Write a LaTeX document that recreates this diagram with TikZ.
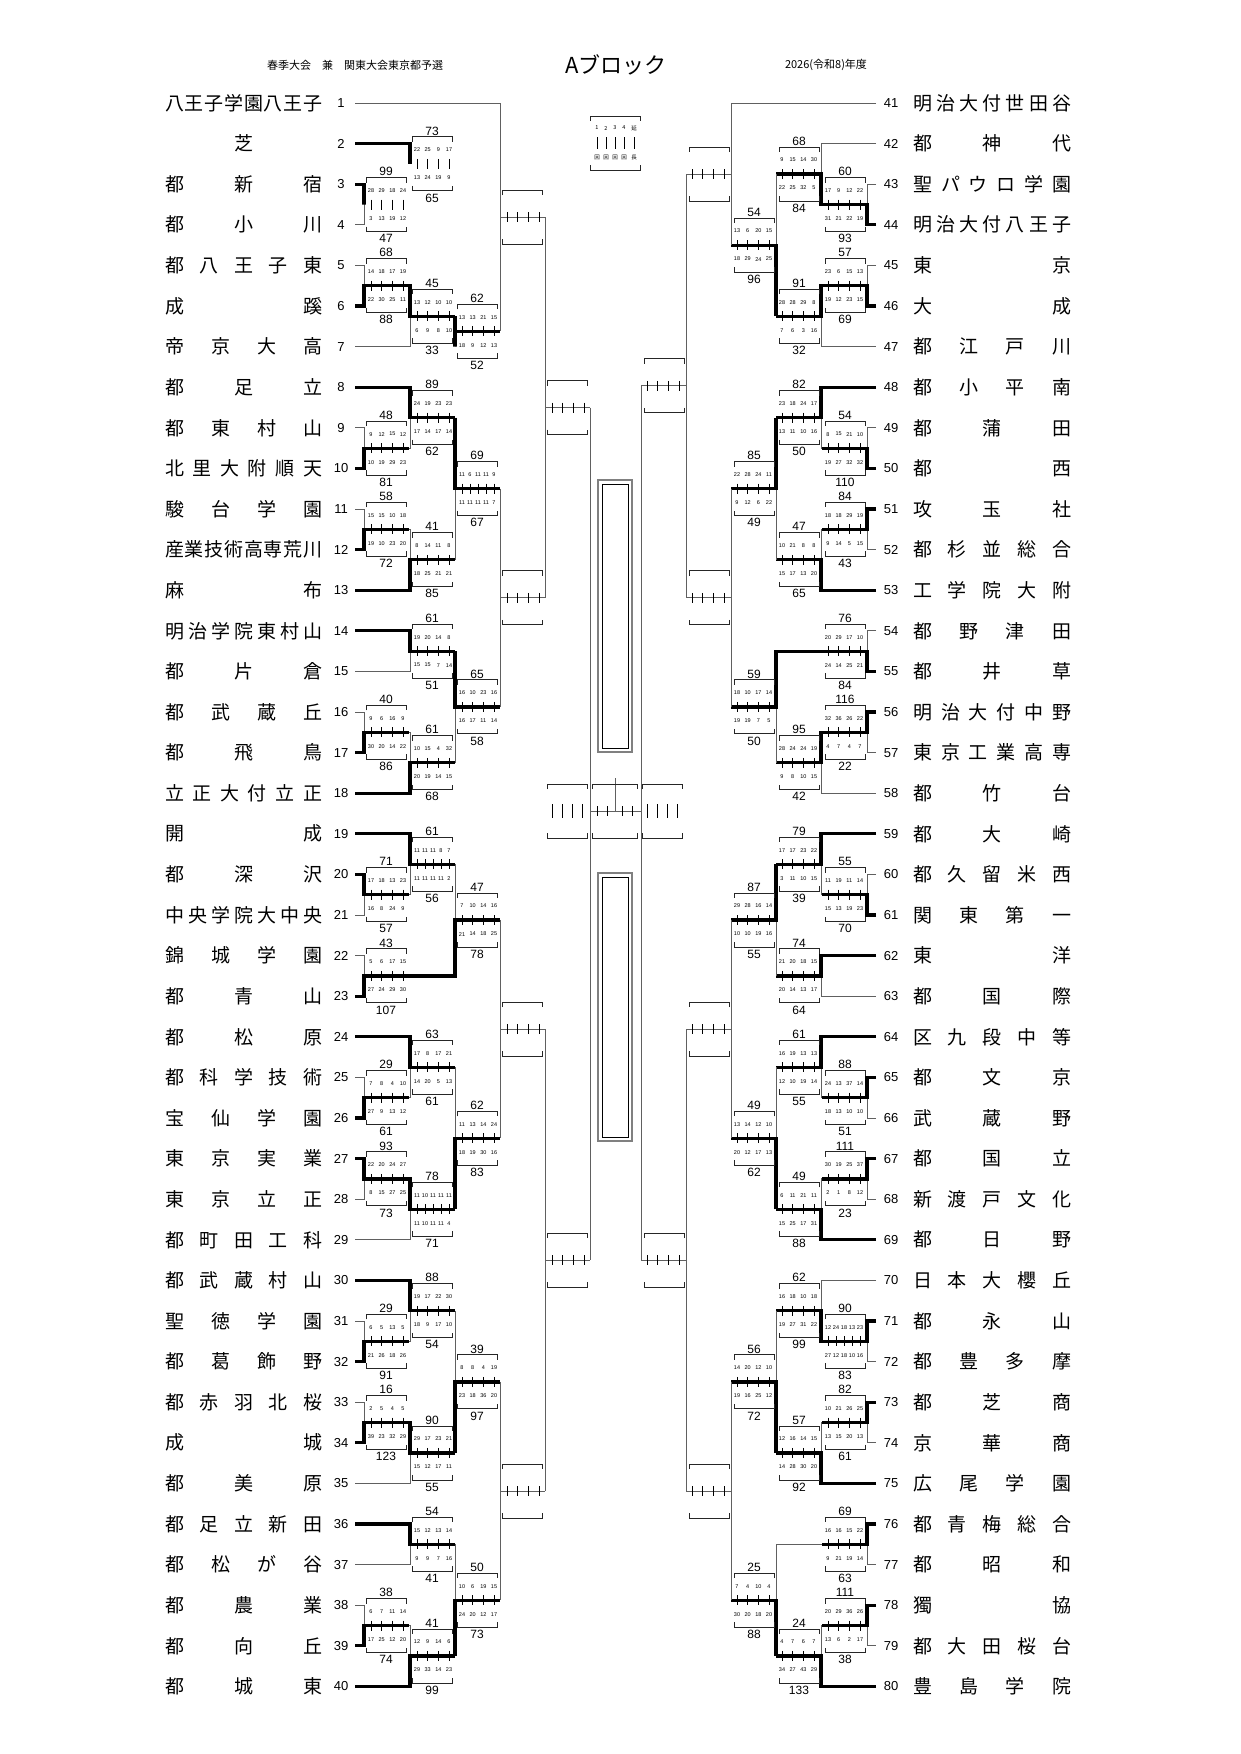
\documentclass[tikz,border=0pt]{standalone}
\usepackage{fontspec}
\setmainfont{Liberation Sans}
\newfontfamily\cjk{Noto Sans CJK JP}
\usetikzlibrary{calc}
\tikzset{
 br/.style={gray!75!black,line width=1},
 win/.style={black,line width=3.2},
 bx/.style={black!85,line width=0.9},
 tk/.style={black,line width=0.9},
 inn/.style={font=\fontsize{5.5}{6}\selectfont,inner sep=0},
 sc/.style={font=\fontsize{12}{13}\selectfont,inner sep=0},
 nm/.style={anchor=west,inner sep=0,font=\fontsize{19}{20}\cjk},
 num/.style={font=\fontsize{13}{14}\selectfont,inner sep=0}
}
\def\spread#1{\spreadi#1\relax}
\def\spreadi#1#2{#1\ifx\relax#2\else\hfill\expandafter\spreadi\expandafter#2\fi}
\def\D{1}\def\sh{0}
\newcommand\M[9]{%
 \coordinate (cx) at (#2,0);
 \coordinate (cy) at ({#2+45*\D},0);
 \coordinate (mm) at ($(#3)!0.5!(#4)$);
 \coordinate (#1) at (cy |- mm);
 \coordinate (a1) at (cx |- #3);
 \coordinate (a2) at (cx |- #4);
 \coordinate (am) at (cx |- mm);
 \draw[br] (#3) -- (a1) -- (a2) -- (#4) (am) -- (#1);
 \ifcase#5\or\draw[win] (#3) -- (a1) -- (am) -- (#1);\or\draw[win] (#4) -- (a2) -- (am) -- (#1);\fi
 \draw[bx] ($(am)+({2*\D},-22)$) -- ++(0,-5) -- ++({40*\D},0) -- ++(0,5);
 \draw[bx] ($(am)+({2*\D},22)$) -- ++(0,5) -- ++({40*\D},0) -- ++(0,-5);
 \gdef\nn{0}\foreach \t in {#8}{\xdef\nn{\the\numexpr\nn+1}}%
 \foreach \t [count=\k] in {#8}{\pgfmathsetmacro\o{7+(\k-1)*32/(\nn-1)+\sh}
   \draw[tk] ($(am)+(\o,-5)$) -- ++(0,10); \node[inn] at ($(am)+(\o,-14)$) {\t};}
 \foreach \t [count=\k] in {#9}{\pgfmathsetmacro\o{7+(\k-1)*32/(\nn-1)+\sh}
   \node[inn] at ($(am)+(\o,14)$) {\t};}
 \node[sc] at ($(am)+({22*\D},-33)$) {#6};
 \node[sc] at ($(am)+({22*\D},34)$) {#7};
}
\begin{document}
\begin{tikzpicture}[x=1pt,y=-1pt]
\useasboundingbox[fill=white] (0,0) rectangle (1241,1754);
% header
\node[font=\fontsize{11}{12}\cjk] at (355,65) {春季大会　兼　関東大会東京都予選};
\node[font=\fontsize{22}{24}\cjk] at (616,65) {Aブロック};
\node[font=\fontsize{11}{12}\cjk] at (826,65) {2026(令和8)年度};
% legend
\draw[bx] (590,121) -- ++(0,-5) -- ++(50,0) -- ++(0,5);
\draw[bx] (590,165) -- ++(0,5) -- ++(50,0) -- ++(0,-5);
\foreach \a/\b/\c [count=\k] in {1/回/597,2/回/606,3/回/615,4/回/624,延/長/634}{
 \node[font=\fontsize{5.5}{6}\cjk,inner sep=0] at (\c,128) {\a};
 \draw[tk] (\c,137) -- (\c,149);
 \node[font=\fontsize{5.5}{6}\cjk,inner sep=0] at (\c,158) {\b};}
% trophies
\foreach \ya/\yb in {480/752,873/1141}{
 \draw[gray,line width=2] (598,\ya) rectangle (632,\yb);
 \draw[black,line width=0.6] (602,\ya+4) rectangle (628,\yb-4);}
% rows
\foreach \i in {1,...,40}{\coordinate (L\i) at (355,{103+(\i-1)*40.6});
  \node[num] at (341,{103+(\i-1)*40.6}) {\i};}
\foreach \i in {41,...,80}{\coordinate (R\i) at (876,{103+(\i-41)*40.6});
  \node[num] at (891,{103+(\i-41)*40.6}) {\i};}
\foreach \n [count=\i] in {八王子学園八王子,芝,都新宿,都小川,都八王子東,成蹊,帝京大高,都足立,都東村山,北里大附順天,駿台学園,産業技術高専荒川,麻布,明治学院東村山,都片倉,都武蔵丘,都飛鳥,立正大付立正,開成,都深沢,中央学院大中央,錦城学園,都青山,都松原,都科学技術,宝仙学園,東京実業,東京立正,都町田工科,都武蔵村山,聖徳学園,都葛飾野,都赤羽北桜,成城,都美原,都足立新田,都松が谷,都農業,都向丘,都城東}
 {\node[nm] at (165,{103+(\i-1)*40.6}) {\makebox[157pt]{\expandafter\spread\expandafter{\n}}};}
\foreach \n [count=\i] in {明治大付世田谷,都神代,聖パウロ学園,明治大付八王子,東京,大成,都江戸川,都小平南,都蒲田,都西,攻玉社,都杉並総合,工学院大附,都野津田,都井草,明治大付中野,東京工業高専,都竹台,都大崎,都久留米西,関東第一,東洋,都国際,区九段中等,都文京,武蔵野,都国立,新渡戸文化,都日野,日本大櫻丘,都永山,都豊多摩,都芝商,京華商,広尾学園,都青梅総合,都昭和,獨協,都大田桜台,豊島学院}
 {\node[nm] at (913,{103+(\i-1)*40.6}) {\makebox[158pt]{\expandafter\spread\expandafter{\n}}};}
% ---------- left
\def\D{1}\def\sh{0}
\M{a1}{364}{L3}{L4}{1}{99}{47}{28,29,18,24}{3,13,19,12}
\M{a2}{410}{L2}{a1}{1}{73}{65}{22,25,9,17}{13,24,19,9}
\M{a3}{364}{L5}{L6}{2}{68}{88}{14,18,17,19}{22,30,25,11}
\M{a4}{410}{a3}{L7}{1}{45}{33}{13,12,10,10}{6,9,8,10}
\M{a5}{455}{a2}{a4}{1}{62}{52}{13,13,21,15}{18,9,12,13}
\M{a6}{500}{L1}{a5}{0}{}{}{{},{},{},{}}{{},{},{},{}}
\M{b1}{364}{L9}{L10}{2}{48}{81}{9,12,15,12}{10,19,29,23}
\M{b2}{410}{L8}{b1}{1}{89}{62}{24,19,23,23}{17,14,17,14}
\M{b3}{364}{L11}{L12}{2}{58}{72}{15,15,10,18}{19,10,23,20}
\M{b4}{410}{b3}{L13}{2}{41}{85}{8,14,11,8}{18,25,21,21}
\M{b5}{455}{b2}{b4}{1}{69}{67}{11,6,11,11,9}{11,11,11,11,7}
\M{c1}{410}{L14}{L15}{1}{61}{51}{19,20,14,8}{15,15,7,14}
\M{c2}{364}{L16}{L17}{2}{40}{86}{9,6,16,9}{30,20,14,22}
\M{c3}{410}{c2}{L18}{2}{61}{68}{10,15,4,32}{20,19,14,15}
\M{c4}{455}{c1}{c3}{1}{65}{58}{16,10,23,16}{16,17,11,14}
\M{bc}{500}{b5}{c4}{0}{}{}{{},{},{},{}}{{},{},{},{}}
\M{abc}{545}{a6}{bc}{0}{}{}{{},{},{},{}}{{},{},{},{}}
\M{d1}{364}{L20}{L21}{1}{71}{57}{17,18,13,23}{16,8,24,9}
\M{d2}{410}{L19}{d1}{1}{61}{56}{11,11,11,8,7}{11,11,11,11,2}
\M{d3}{364}{L22}{L23}{2}{43}{107}{5,6,17,15}{27,24,29,30}
\M{d4}{455}{d2}{d3}{2}{47}{78}{7,10,14,16}{21,14,18,25}
\M{e1}{364}{L25}{L26}{2}{29}{61}{7,8,4,10}{27,9,13,12}
\M{e2}{410}{L24}{e1}{1}{63}{61}{17,8,17,21}{14,20,5,13}
\M{e3}{364}{L27}{L28}{1}{93}{73}{22,20,24,27}{8,15,27,25}
\M{e4}{410}{e3}{L29}{1}{78}{71}{11,10,11,11,11}{11,10,11,11,4}
\M{e5}{455}{e2}{e4}{2}{62}{83}{11,13,14,24}{18,19,30,16}
\M{de}{500}{d4}{e5}{0}{}{}{{},{},{},{}}{{},{},{},{}}
\M{f1}{364}{L31}{L32}{2}{29}{91}{6,5,13,5}{21,26,18,26}
\M{f2}{410}{L30}{f1}{1}{88}{54}{19,17,22,30}{18,9,17,10}
\M{f3}{364}{L33}{L34}{2}{16}{123}{2,5,4,5}{39,23,32,29}
\M{f4}{410}{f3}{L35}{1}{90}{55}{29,17,23,21}{15,12,17,11}
\M{f5}{455}{f2}{f4}{2}{39}{97}{8,8,4,19}{23,18,36,20}
\M{g1}{410}{L36}{L37}{1}{54}{41}{15,12,13,14}{9,9,7,16}
\M{g2}{364}{L38}{L39}{2}{38}{74}{6,7,11,14}{17,25,12,20}
\M{g3}{410}{g2}{L40}{2}{41}{99}{12,9,14,6}{29,33,14,23}
\M{g4}{455}{g1}{g3}{2}{50}{73}{10,6,19,15}{24,20,12,17}
\M{fg}{500}{f5}{g4}{0}{}{}{{},{},{},{}}{{},{},{},{}}
\M{defg}{545}{de}{fg}{0}{}{}{{},{},{},{}}{{},{},{},{}}
% ---------- right
\def\D{(-1)}\def\sh{-46}
\M{ra1}{867}{R43}{R44}{2}{60}{93}{17,9,12,22}{31,21,22,19}
\M{ra2}{821}{R42}{ra1}{2}{68}{84}{9,15,14,30}{22,25,32,5}
\M{ra3}{867}{R45}{R46}{2}{57}{69}{23,6,15,13}{19,12,23,15}
\M{ra4}{821}{ra3}{R47}{1}{91}{32}{28,28,29,8}{7,6,3,16}
\M{ra5}{776}{ra2}{ra4}{2}{54}{96}{13,6,20,15}{18,29,24,25}
\M{ra6}{731}{R41}{ra5}{0}{}{}{{},{},{},{}}{{},{},{},{}}
\M{rb1}{867}{R49}{R50}{2}{54}{110}{8,15,21,10}{19,27,32,32}
\M{rb2}{821}{R48}{rb1}{1}{82}{50}{23,18,24,17}{13,11,10,16}
\M{rb3}{867}{R51}{R52}{1}{84}{43}{18,18,29,19}{9,14,5,15}
\M{rb4}{821}{rb3}{R53}{2}{47}{65}{10,21,8,8}{15,17,13,20}
\M{rb5}{776}{rb2}{rb4}{1}{85}{49}{22,28,24,11}{9,12,6,22}
\M{rc1}{867}{R54}{R55}{2}{76}{84}{20,29,17,10}{24,14,25,21}
\M{rc2}{867}{R56}{R57}{1}{116}{22}{32,36,26,22}{4,7,4,7}
\M{rc3}{821}{rc2}{R58}{1}{95}{42}{28,24,24,19}{9,8,10,15}
\M{rc4}{776}{rc1}{rc3}{1}{59}{50}{18,10,17,14}{19,19,7,5}
\M{rbc}{731}{rb5}{rc4}{0}{}{}{{},{},{},{}}{{},{},{},{}}
\M{rabc}{686}{ra6}{rbc}{0}{}{}{{},{},{},{}}{{},{},{},{}}
\M{rd1}{867}{R60}{R61}{2}{55}{70}{11,19,11,14}{15,13,19,23}
\M{rd2}{821}{R59}{rd1}{1}{79}{39}{17,17,23,22}{3,11,10,15}
\M{rd3}{821}{R62}{R63}{1}{74}{64}{21,20,18,15}{20,14,13,17}
\M{rd4}{776}{rd2}{rd3}{1}{87}{55}{29,28,16,14}{10,10,19,16}
\M{re1}{867}{R65}{R66}{1}{88}{51}{24,13,37,14}{18,13,10,10}
\M{re2}{821}{R64}{re1}{1}{61}{55}{16,19,13,13}{12,10,19,14}
\M{re3}{867}{R67}{R68}{1}{111}{23}{30,19,25,37}{2,1,8,12}
\M{re4}{821}{re3}{R69}{2}{49}{88}{6,11,21,11}{15,25,17,31}
\M{re5}{776}{re2}{re4}{2}{49}{62}{13,14,12,10}{20,12,17,13}
\M{rde}{731}{rd4}{re5}{0}{}{}{{},{},{},{}}{{},{},{},{}}
\M{rf1}{867}{R71}{R72}{1}{90}{83}{12,24,18,13,23}{27,12,18,10,16}
\M{rf2}{821}{R70}{rf1}{2}{62}{99}{16,18,10,18}{19,27,31,22}
\M{rf3}{867}{R73}{R74}{1}{82}{61}{10,21,26,25}{13,15,20,13}
\M{rf4}{821}{rf3}{R75}{2}{57}{92}{12,16,14,15}{14,28,30,20}
\M{rf5}{776}{rf2}{rf4}{2}{56}{72}{14,20,12,10}{19,16,25,12}
\M{rg1}{867}{R76}{R77}{1}{69}{63}{16,16,15,22}{9,21,19,14}
\M{rg2}{867}{R78}{R79}{1}{111}{38}{20,29,36,26}{13,6,2,17}
\M{rg3}{821}{rg2}{R80}{2}{24}{133}{4,7,6,7}{34,27,43,29}
\M{rg4}{776}{rg1}{rg3}{2}{25}{88}{7,4,10,4}{30,20,18,20}
\M{rfg}{731}{rf5}{rg4}{0}{}{}{{},{},{},{}}{{},{},{},{}}
\M{rdefg}{686}{rde}{rfg}{0}{}{}{{},{},{},{}}{{},{},{},{}}
% ---------- centre
\draw[br] (abc) -- (defg);
\draw[br] (rabc) -- (rdefg);
\coordinate (fl) at (590,811); \coordinate (fr) at (641,811); \coordinate (fs) at (615,778);
\draw[br] (fl) -- (fr);
\draw[br] (fs) -- (fs |- fl);
\foreach \xa in {547,592,642}{
 \pgfmathsetmacro\xb{\xa==592 ? 637 : \xa+40}
 \draw[bx] (\xa,789) -- ++(0,-5) -- (\xb,784) -- ++(0,5);
 \draw[bx] (\xa,833) -- ++(0,5) -- (\xb,838) -- ++(0,-5);}
\foreach \t in {552,562,572,582,647,657,667,677}{\draw[tk] (\t,804) -- (\t,818);}
\foreach \t in {597,607,622,632}{\draw[tk] (\t,806) -- (\t,816);}
\end{tikzpicture}
\end{document}
